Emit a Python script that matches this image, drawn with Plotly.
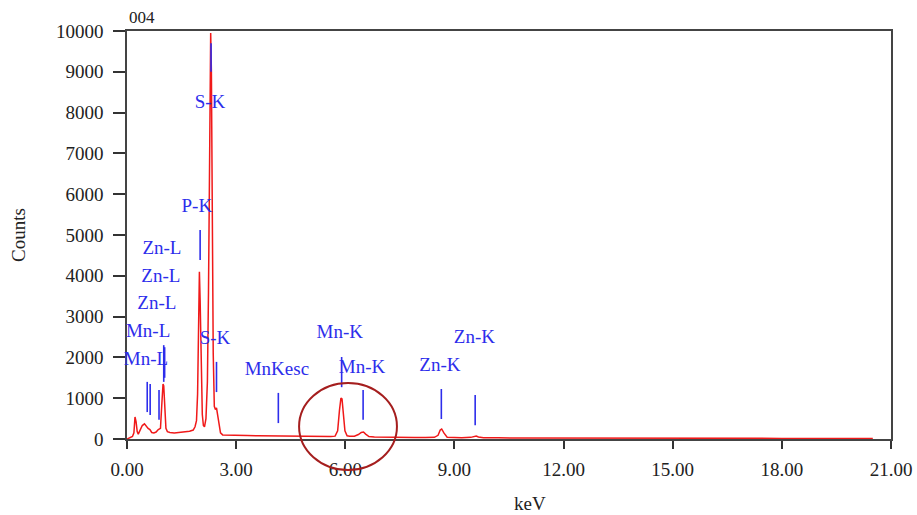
import plotly.graph_objects as go

# ---- spectrum data (keV, counts) ----
kev = [0.00, 0.05, 0.10, 0.15, 0.19, 0.22, 0.25, 0.28, 0.31, 0.36, 0.42, 0.48, 0.53, 0.58, 0.63,
       0.68, 0.74, 0.80, 0.86, 0.92, 0.96, 0.99, 1.01, 1.04, 1.07, 1.11, 1.18, 1.30, 1.45, 1.60,
       1.72, 1.82, 1.87, 1.91, 1.94, 1.97, 1.99, 2.01, 2.04, 2.07, 2.10, 2.13, 2.17, 2.21, 2.24,
       2.27, 2.30, 2.32, 2.34, 2.37, 2.40, 2.43, 2.46, 2.49, 2.53, 2.57, 2.63, 2.75, 3.0, 3.3,
       3.6, 3.9, 4.2, 4.5, 4.8, 5.1, 5.4, 5.6, 5.72, 5.79, 5.84, 5.88, 5.91, 5.95, 5.99, 6.05,
       6.12, 6.25, 6.36, 6.44, 6.50, 6.56, 6.65, 6.80, 7.0, 7.3, 7.6, 7.9, 8.2, 8.45, 8.55, 8.61,
       8.65, 8.71, 8.80, 8.95, 9.2, 9.45, 9.55, 9.60, 9.66, 9.80, 10.2, 11.0, 12.0, 13.0, 14.0,
       15.0, 16.0, 17.0, 18.0, 19.0, 20.0, 20.5]
counts = [0, 20, 40, 60, 150, 540, 420, 180, 120, 200, 330, 370, 300, 260, 230,
          160, 150, 170, 230, 260, 900, 1350, 1300, 600, 260, 180, 160, 150, 160, 170,
          190, 220, 300, 450, 1100, 2900, 4100, 3400, 1400, 600, 330, 300, 500, 1400, 3600,
          6300, 9950, 9000, 5300, 2100, 800, 720, 760, 600, 320, 150, 100, 95, 90, 85,
          80, 75, 75, 70, 65, 62, 60, 60, 70, 200, 700, 1000, 980, 650, 200, 80,
          65, 70, 110, 160, 170, 120, 60, 50, 45, 40, 38, 35, 35, 40, 90, 220,
          245, 150, 45, 35, 30, 40, 65, 70, 50, 30, 28, 25, 22, 20, 20,
          18, 18, 16, 15, 15, 14, 14]

# ---- element marker lines (keV, top count, bottom count) ----
marker_kev = [2.31, 2.01, 1.01, 1.035, 0.88, 0.556, 0.637, 2.46, 4.16, 5.90, 6.49, 8.64, 9.57]
marker_top = [9700, 5120, 2300, 2250, 1200, 1400, 1350, 1890, 1130, 2010, 1200, 1225, 1080]
marker_bot = [9000, 4390, 1400, 1500, 470, 660, 590, 1150, 390, 1270, 470, 490, 340]

# ---- element labels (text, keV, counts) ----
label_text = ["S-K", "P-K", "Zn-L", "Zn-L", "Zn-L", "Mn-L", "Mn-L", "S-K", "MnKesc",
              "Mn-K", "Mn-K", "Zn-K", "Zn-K"]
label_kev = [2.28, 1.92, 0.96, 0.93, 0.82, 0.58, 0.52, 2.42, 4.12, 5.85, 6.46, 8.60, 9.55]
label_cnt = [8235, 5690, 4660, 3970, 3310, 2620, 1940, 2450, 1690, 2600, 1740, 1790, 2475]

# ---- axis ticks ----
x_ticks = [0, 3, 6, 9, 12, 15, 18, 21]
x_tick_text = ["0.00", "3.00", "6.00", "9.00", "12.00", "15.00", "18.00", "21.00"]
y_ticks = [0, 1000, 2000, 3000, 4000, 5000, 6000, 7000, 8000, 9000, 10000]
y_tick_text = [str(v) for v in y_ticks]

# highlighted region (ellipse) in data units
circle_kev = [4.73, 7.42]
circle_cnt = [1370, -760]

X_RANGE = [0, 21]
Y_RANGE = [0, 10000]

SERIF = "Liberation Serif, Times New Roman, serif"
BLUE = "rgb(45,45,235)"

fig = go.Figure()

fig.add_trace(go.Scatter(x=kev, y=counts, mode="lines",
                         line=dict(color="rgb(240,25,25)", width=1.5),
                         hoverinfo="skip", showlegend=False))

mx, my = [], []
for e, t, b in zip(marker_kev, marker_top, marker_bot):
    mx += [e, e, None]
    my += [t, b, None]
fig.add_trace(go.Scatter(x=mx, y=my, mode="lines",
                         line=dict(color=BLUE, width=1.6),
                         hoverinfo="skip", showlegend=False))

fig.add_trace(go.Scatter(x=label_kev, y=label_cnt, mode="text", text=label_text,
                         textfont=dict(family=SERIF, size=19, color=BLUE),
                         textposition="middle center", cliponaxis=False,
                         hoverinfo="skip", showlegend=False))


def to_paper_x(v):
    return (v - X_RANGE[0]) / (X_RANGE[1] - X_RANGE[0])


def to_paper_y(v):
    return (v - Y_RANGE[0]) / (Y_RANGE[1] - Y_RANGE[0])


fig.add_shape(type="circle", xref="paper", yref="paper",
              x0=to_paper_x(circle_kev[0]), x1=to_paper_x(circle_kev[1]),
              y0=to_paper_y(circle_cnt[1]), y1=to_paper_y(circle_cnt[0]),
              line=dict(color="rgb(165,30,30)", width=2), layer="above")

fig.update_layout(
    width=917, height=515,
    margin=dict(l=127, r=26, t=31, b=76, autoexpand=False),
    paper_bgcolor="white", plot_bgcolor="white",
    font=dict(family=SERIF, size=18, color="#222"),
    xaxis=dict(range=X_RANGE, tickvals=x_ticks, ticktext=x_tick_text, automargin=False,
               showgrid=False, zeroline=False, showline=True, linecolor="#444",
               linewidth=1.5, mirror=True, ticks="outside", ticklen=8, tickwidth=1.5,
               tickcolor="#333", tickfont=dict(family=SERIF, size=19, color="#222"),
               ticklabelstandoff=4, layer="below traces"),
    yaxis=dict(range=Y_RANGE, tickvals=y_ticks, ticktext=y_tick_text, automargin=False,
               showgrid=False, zeroline=False,
               showline=True, linecolor="#444", linewidth=1.5, mirror=True,
               ticks="outside", ticklen=12, tickwidth=1.5, tickcolor="#333",
               tickfont=dict(family=SERIF, size=19, color="#222"),
               ticklabelstandoff=6, layer="below traces"),
    annotations=[
        dict(text="004", xref="paper", yref="paper", x=0.0, y=1.0, xanchor="left",
             yanchor="bottom", yshift=2, showarrow=False,
             font=dict(family=SERIF, size=17, color="#222")),
        dict(text="Counts", xref="paper", yref="paper", x=0, y=0.5, xshift=-109,
             textangle=-90, showarrow=False, xanchor="center", yanchor="middle",
             font=dict(family=SERIF, size=19, color="#222")),
        dict(text="keV", xref="paper", yref="paper", x=0.527, y=0, yshift=-64,
             showarrow=False, xanchor="center", yanchor="middle",
             font=dict(family=SERIF, size=19, color="#222")),
    ],
)

fig.write_html("out.html", config={"displayModeBar": False},
               post_script="document.body.style.margin='0';"
                           "document.body.style.overflow='hidden';")
